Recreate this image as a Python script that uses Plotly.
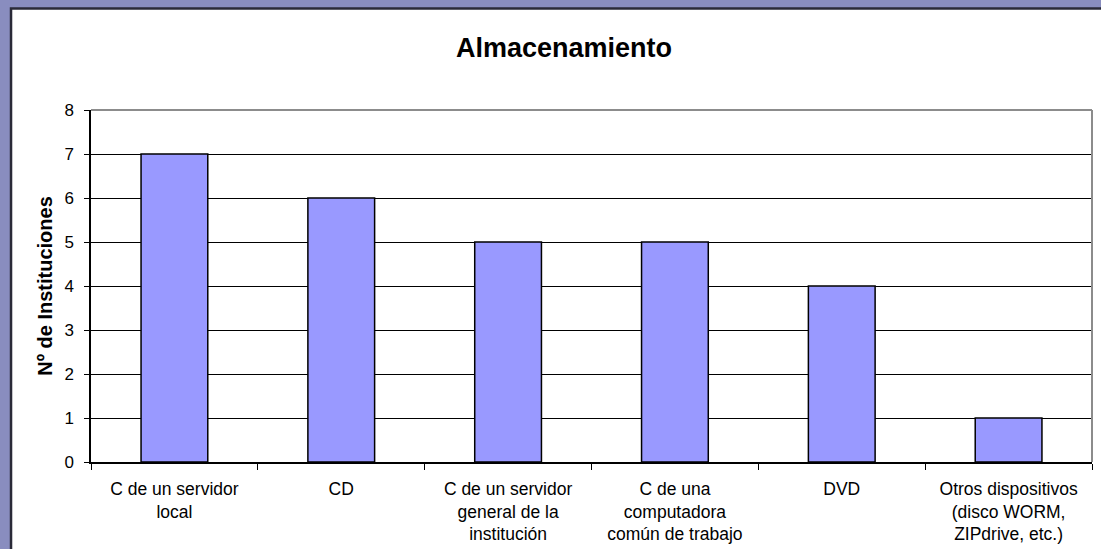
import plotly.graph_objects as go

categories = [
    "C de un servidor<br>local",
    "CD",
    "C de un servidor<br>general de la<br>institución",
    "C de una<br>computadora<br>común de trabajo",
    "DVD",
    "Otros dispositivos<br>(disco WORM,<br>ZIPdrive, etc.)",
]
values = [7, 6, 5, 5, 4, 1]
y_ticks = [0, 1, 2, 3, 4, 5, 6, 7, 8]

FONT = "Liberation Sans, Arial, sans-serif"
FRAME = "#898dbf"

fig = go.Figure(
    go.Bar(
        x=categories,
        y=values,
        marker=dict(color="#9999ff", line=dict(color="#000000", width=1.5)),
        width=0.4,
        hoverinfo="x+y",
    )
)

fig.update_layout(
    width=1101,
    height=549,
    margin=dict(l=91, r=9, t=110, b=87),
    paper_bgcolor=FRAME,
    plot_bgcolor="#c0c0c0",
    showlegend=False,
    font=dict(family=FONT, size=17, color="#000000"),
    shapes=[
        dict(type="rect", xref="paper", yref="paper", x0=-0.0799, x1=1.2, y0=-1, y1=1.288,
             fillcolor="#ffffff", line=dict(color="#2a2a38", width=2.5), layer="below"),
        dict(type="line", xref="paper", yref="paper", x0=0, x1=1, y0=1, y1=1,
             line=dict(color="#8c8c8c", width=2), layer="above"),
        dict(type="line", xref="paper", yref="paper", x0=1, x1=1, y0=0, y1=1,
             line=dict(color="#8c8c8c", width=2), layer="above"),
    ],
    annotations=[
        dict(text="<b>Almacenamiento</b>", xref="paper", yref="paper",
             x=(564 - 91) / 1001, y=(462 - 48) / 352, xanchor="center", yanchor="middle",
             showarrow=False, font=dict(family=FONT, size=27, color="#000000")),
    ],
)

fig.update_xaxes(
    type="category",
    automargin=False,
    showline=True, linecolor="#000000", linewidth=1.5,
    ticks="outside", tickson="boundaries", ticklen=6, tickcolor="#000000",
    showgrid=False,
    tickfont=dict(family=FONT, size=17.5),
    ticklabelstandoff=10,
)
fig.update_yaxes(
    range=[0, 8],
    automargin=False,
    tickvals=y_ticks,
    showline=True, linecolor="#000000", linewidth=1.5,
    ticks="outside", ticklen=5, tickcolor="#000000",
    showgrid=True, gridcolor="#000000", gridwidth=1,
    zeroline=False,
    tickfont=dict(family=FONT, size=17),
    ticklabelstandoff=7,
    title=dict(text="<b>Nº de Instituciones</b>", font=dict(family=FONT, size=20), standoff=6),
)

fig.write_html(
    "out.html",
    config={"displayModeBar": False},
    post_script="document.body.style.margin='0';document.body.style.background='" + FRAME + "';",
)
